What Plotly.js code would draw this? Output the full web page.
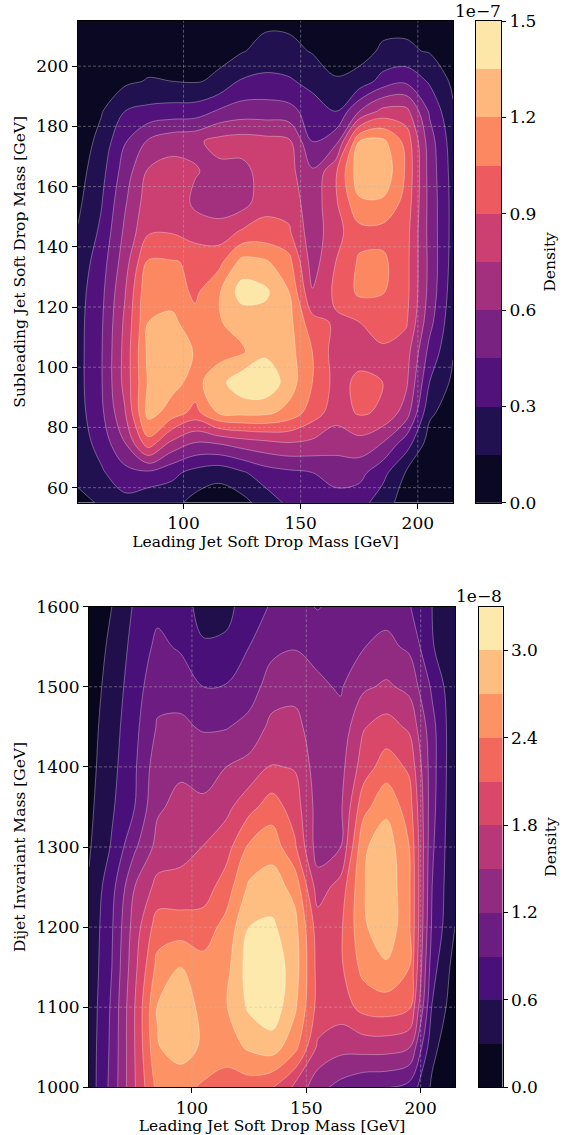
<!DOCTYPE html>
<html><head><meta charset="utf-8">
<script src="https://cdn.plot.ly/plotly-3.0.1.min.js"></script>
<style>html,body{margin:0;padding:0;background:#fff;} #chart{width:571px;height:1135px;}</style>
</head><body><div id="chart"></div>
<script>
// ---------------- DATA ----------------
// Top panel: density (x 1e-7) of subleading vs leading jet soft-drop mass
const topMassX = [55,65,75,85,95,105,115,125,135,145,155,165,175,185,195,205,215];
const topMassY = [55,65,75,85,95,105,115,125,135,145,155,165,175,185,195,205,215];
// each inner list: one leading-mass column, values along topMassY (units of 1e-7)
const topDensityColumns = [
 [0.10,0.20,0.22,0.24,0.25,0.25,0.25,0.24,0.21,0.16,0.12,0.09,0.06,0.04,0.03,0.02,0.02],
 [0.17,0.28,0.36,0.42,0.44,0.44,0.43,0.41,0.38,0.33,0.29,0.25,0.20,0.14,0.08,0.04,0.02],
 [0.25,0.40,0.60,0.74,0.80,0.80,0.78,0.74,0.68,0.63,0.58,0.52,0.44,0.30,0.12,0.06,0.03],
 [0.18,0.42,1.00,1.26,1.22,1.24,1.20,1.18,1.07,0.88,0.83,0.77,0.62,0.34,0.16,0.08,0.04],
 [0.20,0.34,0.72,1.14,1.25,1.29,1.24,1.13,1.06,0.89,0.85,0.80,0.70,0.36,0.15,0.09,0.05],
 [0.10,0.25,0.60,1.00,1.15,1.19,1.10,1.02,1.03,0.82,0.72,0.76,0.72,0.37,0.14,0.10,0.06],
 [0.06,0.20,0.62,1.22,1.30,1.14,1.19,1.18,1.00,0.82,0.66,0.71,0.80,0.47,0.17,0.12,0.08],
 [0.10,0.28,0.68,1.25,1.45,1.18,1.25,1.42,1.25,0.92,0.68,0.70,0.82,0.52,0.32,0.14,0.10],
 [0.22,0.38,0.72,1.24,1.47,1.32,1.28,1.38,1.22,0.95,0.85,0.82,0.80,0.52,0.34,0.20,0.12],
 [0.33,0.42,0.75,1.15,1.28,1.26,1.25,1.20,1.10,0.92,0.84,0.80,0.78,0.50,0.32,0.19,0.12],
 [0.36,0.45,0.72,0.98,1.05,1.05,0.95,0.76,0.68,0.66,0.66,0.62,0.45,0.38,0.25,0.14,0.10],
 [0.38,0.52,0.66,0.82,0.85,0.83,0.88,0.93,0.90,0.85,0.88,0.88,0.55,0.30,0.16,0.10,0.07],
 [0.36,0.50,0.70,0.92,0.93,0.85,0.90,1.08,1.07,1.00,1.18,1.30,1.20,0.60,0.20,0.10,0.08],
 [0.22,0.35,0.60,0.88,0.90,0.88,0.95,1.06,1.08,1.00,1.18,1.32,1.24,0.80,0.36,0.17,0.11],
 [0.08,0.14,0.38,0.68,0.78,0.82,0.92,0.95,0.95,0.96,1.00,1.03,1.00,0.80,0.42,0.17,0.12],
 [0.03,0.04,0.08,0.18,0.30,0.40,0.50,0.55,0.56,0.55,0.55,0.54,0.52,0.43,0.28,0.14,0.08],
 [0.01,0.02,0.04,0.07,0.12,0.16,0.19,0.22,0.24,0.25,0.25,0.24,0.22,0.17,0.12,0.07,0.04]
];
const topLevels = {start:0.15, end:1.5, size:0.15};
const topTickVals = [0.0,0.3,0.6,0.9,1.2,1.5];
const topExponentLabel = '1e\u22127';

// Bottom panel: density (x 1e-8) of dijet invariant mass vs leading jet soft-drop mass
const botMassX = [55,65,75,85,95,105,115,125,135,145,155,165,175,185,195,205,215];
const botDijetMass = [1000,1050,1100,1150,1200,1250,1300,1350,1400,1450,1500,1550,1600];
const botDensityColumns = [
 [0.42,0.42,0.40,0.38,0.36,0.33,0.27,0.23,0.20,0.18,0.15,0.13,0.10],
 [1.00,0.97,0.95,0.90,0.87,0.80,0.63,0.56,0.51,0.47,0.42,0.36,0.30],
 [1.78,1.80,1.80,1.72,1.65,1.50,1.15,0.90,0.86,0.82,0.77,0.71,0.64],
 [2.50,2.68,2.72,2.50,2.25,1.90,1.60,1.46,1.38,1.23,1.10,0.97,0.82],
 [2.50,2.85,2.85,2.70,2.25,1.90,1.70,1.58,1.45,1.25,1.10,0.86,0.72],
 [2.35,2.65,2.62,2.50,2.25,1.95,1.81,1.55,1.40,1.17,0.90,0.63,0.50],
 [2.25,2.55,2.68,2.60,2.50,2.25,1.98,1.72,1.50,1.18,0.92,0.66,0.51],
 [2.25,2.75,3.05,3.15,3.00,2.75,2.45,2.00,1.60,1.30,1.05,0.90,0.76],
 [2.12,2.85,3.20,3.20,3.05,2.85,2.58,2.25,1.82,1.58,1.35,1.12,0.93],
 [1.75,2.50,2.75,2.85,2.80,2.60,2.15,1.95,1.78,1.58,1.42,1.18,1.00],
 [1.30,1.75,2.00,2.00,1.95,1.65,1.35,1.38,1.35,1.35,1.25,1.12,0.88],
 [1.10,1.60,1.95,2.05,2.05,1.92,1.50,1.45,1.40,1.30,1.17,1.08,1.00],
 [0.95,1.62,2.20,2.50,2.65,2.68,2.65,2.30,1.95,1.78,1.45,1.19,1.08],
 [0.92,1.62,2.25,2.65,2.92,2.92,2.88,2.62,2.25,1.92,1.55,1.27,1.10],
 [0.80,1.52,2.15,2.40,2.45,2.45,2.40,2.25,2.05,1.75,1.42,1.15,0.92],
 [0.25,0.38,0.58,0.72,0.85,0.90,0.95,1.00,1.02,1.00,0.85,0.62,0.60],
 [0.04,0.07,0.12,0.18,0.30,0.32,0.33,0.34,0.35,0.36,0.37,0.38,0.40]
];
const botLevels = {start:0.3, end:3.3, size:0.3};
const botTickVals = [0.0,0.6,1.2,1.8,2.4,3.0];
const botExponentLabel = '1e\u22128';

const xTicks = [100,150,200];
const topYTicks = [60,80,100,120,140,160,180,200];
const botYTicks = [1000,1100,1200,1300,1400,1500,1600];

// ---------------- STYLE ----------------
const FONT = 'DejaVu Serif, serif';
const W = 571, H = 1135;
const topColors = ['#0a0822','#221150','#51127c','#792282','#a2307e','#cb3f71','#ed5a5f','#fc8861','#feb77c','#fce7a8'];
const botColors = ['#09071f','#200f4a','#4a1079','#6d1d81','#912b81','#b73779','#d94869','#f3685c','#fd9364','#febe82','#fce9ab'];

// contour fills are sampled exactly at nodes k/n -> node colour scale
function nodeScale(colors){
  const n = colors.length - 1, s = colors.map((c,i)=>[i/(n+1), c]);
  s.push([1, colors[n]]);
  return s;
}
// heatmap colour bar cells are sampled at step centres -> step scale
function stepScale(colors){
  const n = colors.length, s = [];
  colors.forEach((c,i)=>{ s.push([i/n,c]); s.push([(i+1)/n,c]); });
  return s;
}
function toRows(cols){ return cols[0].map((_,j)=>cols.map(c=>c[j])); }

const box = {
  top: {l:78, r:453, t:21, b:502.7, cbL:476, cbR:501},
  bot: {l:89, r:455, t:606.7, b:1087.3, cbL:479, cbR:502.5}
};
const px = v => v / W, py = v => 1 - v / H;

const zTop = toRows(topDensityColumns);
const zBot = toRows(botDensityColumns);
const lineStyle = {color:'rgba(255,255,255,0.55)', width:0.6, smoothing:1};

function panelTraces(x, y, z, lv, colors, xa, ya, cbx, cby){
  const bandCenters = colors.map((_,k)=> (k+0.5)*lv.size);
  return [
    {type:'contour', x:x, y:y, z:z, xaxis:xa, yaxis:ya,
     autocontour:false, contours:{start:lv.start, end:lv.end, size:lv.size, coloring:'fill', showlines:false},
     colorscale: nodeScale(colors), line:{width:0, smoothing:1}, showscale:false, hoverinfo:'skip'},
    {type:'contour', x:x, y:y, z:z, xaxis:xa, yaxis:ya,
     autocontour:false, contours:{start:lv.start, end:lv.end, size:lv.size, coloring:'none', showlines:true},
     line: lineStyle, showscale:false, hoverinfo:'skip'},
    {type:'heatmap', x:[0.5], y:bandCenters, z:bandCenters.map(v=>[v]), xaxis:cbx, yaxis:cby,
     zmin:0, zmax:colors.length*lv.size, colorscale: stepScale(colors), showscale:false, hoverinfo:'skip'}
  ];
}

const traces = [].concat(
  panelTraces(topMassX, topMassY, zTop, topLevels, topColors, 'x', 'y', 'x3', 'y3'),
  panelTraces(botMassX, botDijetMass, zBot, botLevels, botColors, 'x2', 'y2', 'x4', 'y4')
);

function axisBase(){
  return {ticks:'outside', ticklen:5, tickwidth:1, tickcolor:'#000',
    showline:true, linecolor:'#000', linewidth:1, mirror:true,
    showgrid:false, zeroline:false, tickfont:{family:FONT, size:17, color:'#000'}};
}
function cbXAxis(b, yname){
  return {domain:[px(b.cbL), px(b.cbR)], range:[0,1], anchor:yname, showticklabels:false, ticks:'',
    showline:true, linecolor:'#000', linewidth:1, mirror:true, showgrid:false, zeroline:false, fixedrange:true};
}
function cbYAxis(b, xname, maxv, ticks){
  return {domain:[py(b.b), py(b.t)], range:[0,maxv], anchor:xname, side:'right',
    ticks:'outside', ticklen:4, tickwidth:1, tickcolor:'#000',
    tickvals:ticks, ticktext:ticks.map(v=>v.toFixed(1)), tickfont:{family:FONT, size:17, color:'#000'},
    showline:true, linecolor:'#000', linewidth:1, mirror:true, showgrid:false, zeroline:false, fixedrange:true,
    title:{text:'Density', font:{family:FONT, size:15.5, color:'#000'}, standoff:8}};
}

const gridShapes = [];
function addGrid(xref, yref, xs, ys){
  const st = {color:'rgba(185,185,185,0.55)', width:0.8, dash:'3px,2px'};
  xs.forEach(v=>gridShapes.push({type:'line', xref:xref, yref:yref+' domain', x0:v, x1:v, y0:0, y1:1, line:st, layer:'above'}));
  ys.forEach(v=>gridShapes.push({type:'line', xref:xref+' domain', yref:yref, x0:0, x1:1, y0:v, y1:v, line:st, layer:'above'}));
}
addGrid('x','y', xTicks, topYTicks);
addGrid('x2','y2', xTicks, botYTicks.filter(v=>v>1000 && v<1600));

const layout = {
  width:W, height:H, margin:{l:0,r:0,t:0,b:0}, paper_bgcolor:'#fff', plot_bgcolor:'#fff',
  font:{family:FONT, color:'#000'}, showlegend:false,
  xaxis: Object.assign(axisBase(), {domain:[px(box.top.l), px(box.top.r)], range:[55,215], anchor:'y', tickvals:xTicks,
    title:{text:'Leading Jet Soft Drop Mass [GeV]', font:{family:FONT, size:15.5}, standoff:4}}),
  yaxis: Object.assign(axisBase(), {domain:[py(box.top.b), py(box.top.t)], range:[55,215], anchor:'x', tickvals:topYTicks,
    title:{text:'Subleading Jet Soft Drop Mass [GeV]', font:{family:FONT, size:15.5}, standoff:6}}),
  xaxis2: Object.assign(axisBase(), {domain:[px(box.bot.l), px(box.bot.r)], range:[55,215], anchor:'y2', tickvals:xTicks,
    title:{text:'Leading Jet Soft Drop Mass [GeV]', font:{family:FONT, size:15.5}, standoff:4}}),
  yaxis2: Object.assign(axisBase(), {domain:[py(box.bot.b), py(box.bot.t)], range:[1000,1600], anchor:'x2', tickvals:botYTicks,
    title:{text:'Dijet Invariant Mass [GeV]', font:{family:FONT, size:15.5}, standoff:6}}),
  xaxis3: cbXAxis(box.top, 'y3'),
  yaxis3: cbYAxis(box.top, 'x3', topColors.length*topLevels.size, topTickVals),
  xaxis4: cbXAxis(box.bot, 'y4'),
  yaxis4: cbYAxis(box.bot, 'x4', botColors.length*botLevels.size, botTickVals),
  shapes: gridShapes,
  annotations:[
    {xref:'paper', yref:'paper', x:px(477.5), y:py(11), text:topExponentLabel, showarrow:false, xanchor:'center', yanchor:'middle', font:{family:FONT, size:17, color:'#000'}},
    {xref:'paper', yref:'paper', x:px(479), y:py(596), text:botExponentLabel, showarrow:false, xanchor:'center', yanchor:'middle', font:{family:FONT, size:17, color:'#000'}}
  ]
};

Plotly.newPlot('chart', traces, layout, {staticPlot:true, displayModeBar:false});
</script></body></html>
